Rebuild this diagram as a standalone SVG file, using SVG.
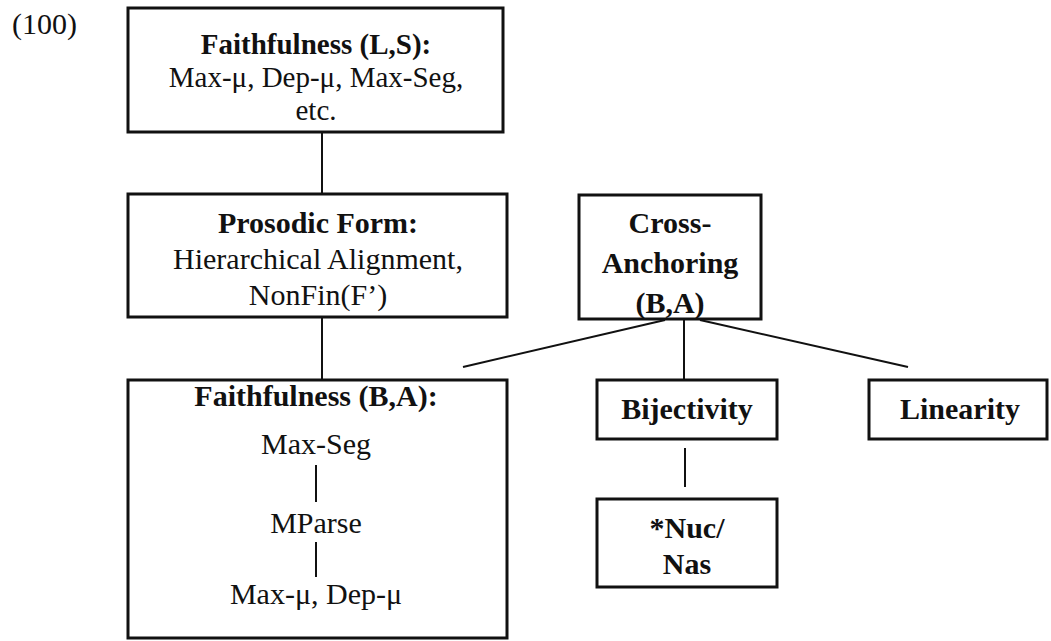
<svg xmlns="http://www.w3.org/2000/svg" width="1051" height="641" viewBox="0 0 1051 641">
<style>
text{font-family:"Liberation Serif","Times New Roman",serif;font-size:30px;fill:#111;text-anchor:middle}
.b{font-weight:bold}
.s{font-size:29px}
.box{fill:none;stroke:#111;stroke-width:3}
.con{stroke:#111;stroke-width:2;fill:none}
</style>
<rect width="1051" height="641" fill="#fff"/>
<text x="12" y="34" style="text-anchor:start">(100)</text>
<g id="connectors">
<line class="con" x1="322" y1="132" x2="322" y2="194"/>
<line class="con" x1="322" y1="317" x2="322" y2="380"/>
<line class="con" x1="665" y1="320" x2="463" y2="367"/>
<line class="con" x1="684" y1="320" x2="684" y2="380"/>
<line class="con" x1="700" y1="320" x2="908" y2="367"/>
<line class="con" x1="685" y1="448" x2="685" y2="487"/>
</g>
<g id="faith-ls">
<rect class="box" x="128" y="8" width="375" height="124"/>
<text class="b s" x="316" y="54">Faithfulness (L,S):</text>
<text class="s" x="316" y="87">Max-μ, Dep-μ, Max-Seg,</text>
<text class="s" x="316" y="120">etc.</text>
</g>
<g id="prosodic">
<rect class="box" x="128" y="194" width="379" height="123"/>
<text class="b" x="318" y="233">Prosodic Form:</text>
<text x="318" y="269">Hierarchical Alignment,</text>
<text x="318" y="305">NonFin(F’)</text>
</g>
<g id="faith-ba">
<rect class="box" x="128" y="380" width="379" height="258"/>
<text class="b" x="316" y="406">Faithfulness (B,A):</text>
<text x="316" y="454">Max-Seg</text>
<line class="con" x1="316" y1="465" x2="316" y2="502"/>
<text x="316" y="533">MParse</text>
<line class="con" x1="316" y1="542" x2="316" y2="577"/>
<text x="316" y="604">Max-μ, Dep-μ</text>
</g>
<g id="cross-anchoring">
<rect class="box" x="579" y="195" width="182" height="124"/>
<text class="b" x="670" y="233">Cross-</text>
<text class="b" x="670" y="273">Anchoring</text>
<text class="b" x="670" y="313">(B,A)</text>
</g>
<g id="bijectivity">
<rect class="box" x="597" y="380" width="180" height="59"/>
<text class="b" x="687" y="419">Bijectivity</text>
</g>
<g id="linearity">
<rect class="box" x="869" y="380" width="178" height="59"/>
<text class="b" x="960" y="419">Linearity</text>
</g>
<g id="nuc-nas">
<rect class="box" x="597" y="499" width="180" height="88"/>
<text class="b" x="687" y="538">*Nuc/</text>
<text class="b" x="687" y="574">Nas</text>
</g>
</svg>
